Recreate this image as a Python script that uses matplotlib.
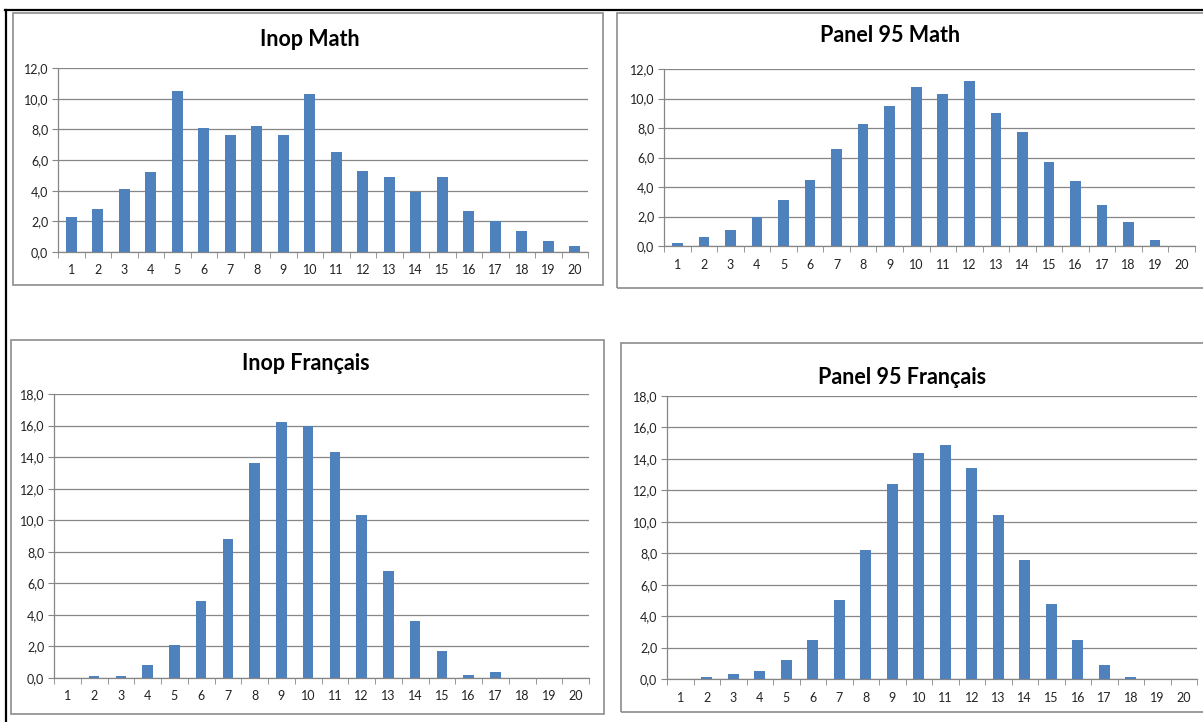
import matplotlib
matplotlib.use("Agg")
import matplotlib.pyplot as plt
from matplotlib.patches import Rectangle
from matplotlib.lines import Line2D
from matplotlib.ticker import FuncFormatter, MultipleLocator
import numpy as np

plt.rcParams['font.family'] = ['Lato', 'DejaVu Sans']

notes = list(range(1, 21))

inop_math = [2.3, 2.8, 4.1, 5.2, 10.5, 8.1, 7.6, 8.2, 7.6, 10.3,
             6.5, 5.3, 4.9, 3.9, 4.9, 2.7, 2.0, 1.4, 0.7, 0.4]
panel_math = [0.2, 0.6, 1.1, 2.0, 3.1, 4.5, 6.6, 8.3, 9.5, 10.8,
              10.3, 11.2, 9.0, 7.7, 5.7, 4.4, 2.8, 1.6, 0.4, 0.0]
inop_fr = [0.0, 0.1, 0.15, 0.8, 2.1, 4.9, 8.8, 13.6, 16.2, 16.0,
           14.3, 10.3, 6.8, 3.6, 1.7, 0.2, 0.4, 0.0, 0.0, 0.0]
panel_fr = [0.0, 0.1, 0.3, 0.5, 1.2, 2.5, 5.0, 8.2, 12.4, 14.4,
            14.9, 13.4, 10.4, 7.6, 4.8, 2.5, 0.9, 0.15, 0.0, 0.0]

W, H = 1203, 722
fig = plt.figure(figsize=(W / 100, H / 100), dpi=100)


def px_rect(x0, y0, x1, y1):
    # pixel box (top-left origin) -> figure fraction
    return [x0 / W, 1 - y1 / H, (x1 - x0) / W, (y1 - y0) / H]


# outer black frame (top and left)
fig.add_artist(Line2D([5 / W, 1], [1 - 9.5 / H] * 2, color='black', lw=1.6, transform=fig.transFigure))
fig.add_artist(Line2D([5.5 / W] * 2, [0, 1 - 9.5 / H], color='black', lw=1.6, transform=fig.transFigure))

panels = [
    # title, data, ymax, box (px), axes (px), title pos (px)
    ("Inop Math", inop_math, 12, (13, 13, 603, 285), (58, 68, 588, 252), (310, 39)),
    ("Panel 95 Math", panel_math, 12, (617, 13, 1210, 288), (664, 69, 1195, 246), (890, 35)),
    ("Inop Français", inop_fr, 18, (11, 340, 604, 714), (54, 394, 589, 678), (306, 364)),
    ("Panel 95 Français", panel_fr, 18, (621, 343, 1210, 712), (667, 396, 1197, 679), (902, 377)),
]

fmt = FuncFormatter(lambda v, p: f"{v:.1f}".replace('.', ','))

for title, vals, ymax, box, axpx, tpos in panels:
    bx0, by0, bx1, by1 = box
    fig.add_artist(Rectangle((bx0 / W, 1 - by1 / H), (bx1 - bx0) / W, (by1 - by0) / H,
                             transform=fig.transFigure, fill=False,
                             edgecolor='#8c8c8c', lw=1.2))
    ax = fig.add_axes(px_rect(*axpx))
    ax.bar(notes, vals, width=0.4, color='#4f81bd', linewidth=0, zorder=3)
    ax.set_xlim(0.5, 20.5)
    ax.set_ylim(0, ymax)
    ax.yaxis.set_major_locator(MultipleLocator(2))
    ax.yaxis.set_major_formatter(fmt)
    ax.set_xticks(notes)
    ax.set_xticks(np.arange(0.5, 21, 1), minor=True)
    ax.tick_params(axis='x', which='major', length=0, pad=9, labelsize=9, labelcolor='#222222')
    ax.tick_params(axis='x', which='minor', length=4, color='#868686', direction='out')
    ax.tick_params(axis='y', length=4, color='#868686', labelsize=9, labelcolor='#222222', pad=3)
    ax.grid(axis='y', color='#868686', lw=0.9, zorder=0)
    for s in ['top', 'right']:
        ax.spines[s].set_visible(False)
    for s in ['left', 'bottom']:
        ax.spines[s].set_color('#868686')
        ax.spines[s].set_linewidth(0.9)
    fig.text(tpos[0] / W, 1 - tpos[1] / H, title, ha='center', va='center',
             fontsize=15.5, fontweight='bold', color='black')

fig.savefig('out.png', dpi=100)
